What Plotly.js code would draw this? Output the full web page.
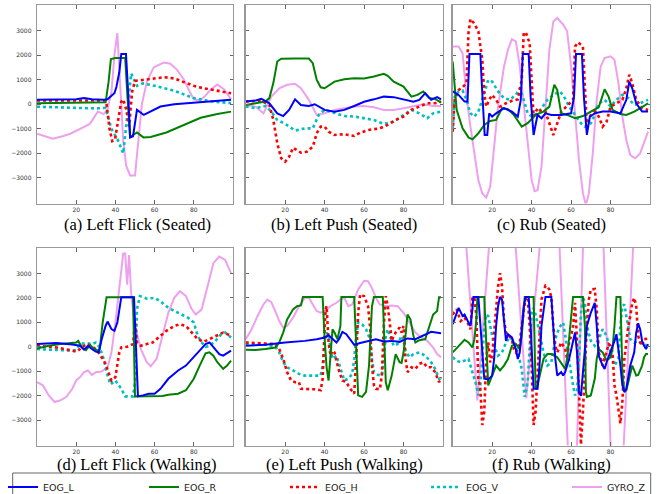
<!DOCTYPE html>
<html>
<head>
<meta charset="utf-8">
<script src="https://cdn.plot.ly/plotly-3.0.1.min.js"></script>
<style>html,body{margin:0;padding:0;background:#fff;}#chart{width:660px;height:494px;}</style>
</head>
<body>
<div id="chart"></div>
<script>
// ---------- DATA ----------
var seriesNames = ["EOG_L", "EOG_R", "EOG_H", "EOG_V", "GYRO_Z"];
var panelTitles = ["(a) Left Flick (Seated)", "(b) Left Push (Seated)", "(c) Rub (Seated)",
                   "(d) Left Flick (Walking)", "(e) Left Push (Walking)", "(f) Rub (Walking)"];
var xTickVals = [20, 40, 60, 80];
var yTickVals = [-3000, -2000, -1000, 0, 1000, 2000, 3000];

// (a) Left Flick (Seated)
var aL_x = [0,10,20,24,28,34,36,38,39.5,40.5,42,43,45.4,46.5,47.5,49,51,54.5,58,63,70,76.6,84,92,99];
var aL_y = [180,180,200,250,200,180,200,350,450,700,1300,2050,2050,500,-1350,-1300,-230,-435,-300,-95,0,40,100,150,180];
var aR_x = [0,10,20,30,35,36.5,37.7,40,45,46,47.5,49,51,54.3,58,66,72,76.6,83.5,92,99];
var aR_y = [40,50,60,60,80,900,1840,1880,1880,500,-1350,-1250,-1150,-1350,-1330,-1150,-950,-800,-550,-400,-300];
var aH_x = [0,10,20,30,35,35.5,37,38.4,39.8,41.5,43,44,45.5,47,48.5,50,55,60,65,70,75,80,85,90,95,99];
var aH_y = [150,150,150,150,150,0,-1000,-1500,-1450,-600,100,200,-200,-900,500,950,1000,1060,1100,1050,900,750,650,570,500,450];
var aV_x = [0,10,20,30,35,38,41.5,44,46,48,51,54,60,70,80,90,99];
var aV_y = [-100,-130,-150,-170,-150,-1000,-1500,-2000,-500,1250,750,850,750,550,250,100,50];
var aG_x = [0,4,8,13,17,22,27,31,34,36,38,39.5,41,42.3,44,45.5,47.5,50,53.5,56,59.5,64.6,68,71.5,75,78,80,83,86,88.6,92,95.5,99];
var aG_y = [-1200,-1300,-1400,-1300,-1200,-1000,-800,-300,-400,-200,500,2000,2900,1000,-1500,-2500,-2900,-2900,0,900,1500,1700,1650,1400,1000,500,200,150,350,600,800,600,200];

// (b) Left Push (Seated)
var bL_x = [0,5,8,12,16,19,22,25,28,32,35,40,45,50,55,60,65,70,75,80,85,88,91,94,97,99];
var bL_y = [110,150,220,40,-370,-480,-230,200,-30,-70,0,-230,-300,-230,-70,100,200,310,290,180,100,180,450,180,290,200];
var bR_x = [0,5,10,12,14,16,18,25,32,34,36,38,40,45,50,55,60,65,70,72,75,80,84,87,90,93,96,99];
var bR_y = [-30,40,110,250,860,1740,1850,1860,1860,1670,990,690,650,920,1020,1060,1050,1130,1240,1160,920,720,310,380,520,250,220,70];
var bH_x = [0,8,12,14,16,18,20,22,24,26,28,31,34,36,38,40,42,45,50,55,58,62,68,72,76,80,84,88,92,96,99];
var bH_y = [110,140,-30,-640,-1590,-2200,-2340,-2140,-1770,-1860,-1970,-1930,-1730,-1180,-910,-910,-1120,-1250,-1220,-1290,-1160,-1050,-980,-840,-640,-500,-230,-95,40,40,110];
var bV_x = [0,5,10,13,16,20,25,30,34,37,40,45,50,55,60,65,70,75,80,84,88,92,95,99];
var bV_y = [-95,-160,-70,-300,-640,-800,-1070,-980,-980,-435,-230,-370,-480,-500,-570,-640,-800,-710,-435,-230,-370,-570,-370,-300];
var bG_x = [0,5,9,13,17,21,25,28,32,36,40,45,50,55,60,65,70,75,80,85,90,95,99];
var bG_y = [-30,-95,-370,310,650,790,830,650,180,-435,-370,-230,-160,-95,-70,-120,-230,-230,-160,-70,0,-70,-70];

// (c) Rub (Seated)
var cL_x = [0,3,6,7.5,8.5,14,15,16.2,17.5,18.5,20,22,26,30,33,34.5,35.5,38.5,39.5,41,43,45,47,50,55,60,61.5,62.5,65.5,66.5,68,69.5,72,76,80,85,88,89.5,91,93,96,99];
var cL_y = [520,380,110,110,2050,2050,450,-1250,-1250,-370,-500,-370,-160,-300,-500,180,2050,2050,300,-1250,-435,-570,-370,-435,-435,-370,310,2050,2050,300,-1250,-500,-370,-300,-300,-370,180,920,650,40,-300,-300];
var cR_x = [0,1,2,5,8,10,13,16,19,22,25,28,31,35,38,42,46,49,51.5,53,55,58,62,66,70,74,77,79,81,85,88,92,96,99];
var cR_y = [1740,860,-230,-980,-1350,-1430,-1180,-840,-680,-640,-160,-200,-435,-910,-770,-435,-300,-95,790,580,-370,-435,-570,-480,-300,-120,610,310,-230,-400,-435,-300,-120,40];
var cH_x = [0,1,3,5,7,8,9,11,13,15,16,17,18.5,20,22,24,27,30,33,35,36,37,39,40,41,43,45,47,49,51,53,55,58,61,62,63.5,66,67,68,70,72,74,76,78,80,83,86,88,89.5,91,93,96,99];
var cH_y = [-1120,180,580,690,860,2900,3470,3280,2970,1810,450,-95,180,380,180,-95,40,140,200,990,2900,2930,2490,1130,-500,-160,-300,-300,-775,-1250,-775,-300,-70,180,2350,2520,2350,580,-910,-435,-300,-500,-910,-710,-95,40,180,650,1200,860,180,-160,-230];
var cV_x = [0,1,3,5,7,9,11,13,16,18,20,23,26,29,32,34,36,38,40,43,45,48,51,54,56,59,62,65,67,70,72,74,77,80,83,86,89,92,95,99];
var cV_y = [-980,310,520,560,180,-370,-500,-300,450,990,920,520,250,180,380,650,180,-370,-500,-370,-160,180,380,520,380,-95,-435,-775,-910,-775,-435,40,180,-95,180,380,250,-30,40,180];
var cG_x = [0,3,5,7,9,11,13,15,17,19,21,23,26,28,30,32,34,36,38,40,41.5,43,45,47,49,51,53,56,58,60,62,64,66,67.5,69,71,73,75,77,80,82,84,86,88,90,92.5,95,97,99];
var cG_y = [2350,2350,2080,310,-910,-2000,-3090,-3630,-3800,-3360,-1590,-95,1540,2220,2650,2560,1540,-95,-1730,-3090,-3540,-3500,-2540,-230,2220,3370,3510,3240,2970,1540,-500,-2270,-3630,-4100,-3630,-2000,180,1540,1880,1950,1810,860,-500,-1460,-2070,-2200,-2000,-1590,-1120];

// (d) Left Flick (Walking)
var dL_x = [0,10,18,22,24,26,28,30,31.5,33,35,36,38,39.5,41,43,49.5,50.5,51.5,54,57,60,63,67,72,76,80,83,86,88,90,93,95,99];
var dL_y = [110,150,95,40,-120,40,-95,-200,-230,310,850,1030,720,650,990,2030,2030,0,-2030,-1990,-1920,-1920,-1720,-1310,-970,-770,-430,-160,110,175,-30,-300,-365,-160];
var dR_x = [0,6,12,17,20,21,23,25,27,29,31,32,33.5,35.5,49,50,62,64,67,72,76,80,83,86,88,90,92,95,97,99];
var dR_y = [-70,40,110,150,175,240,-30,-135,70,-70,-160,-95,990,2030,2030,-2030,-2030,-2010,-1960,-1920,-1780,-1310,-770,-270,-230,-365,-635,-905,-770,-570];
var dH_x = [0,10,18,20,22,24,26,28,30,32,35,37,38,40,41,42,43,46,49,50,51,53,56,59,62,66,70,73,76,79,82,85,88,92,95,97,99];
var dH_y = [40,-30,-160,-200,-95,40,110,0,-95,-300,-700,-1180,-1380,-1240,-635,-230,-30,0,110,990,175,40,110,175,380,650,850,920,850,580,310,200,310,445,580,515,445];
var dV_x = [0,10,18,20,22,25,28,30,32,34,36,37.5,40,43,45,49,50,51,52.5,56,60,63,67,72,77,80,82,84,86,88,91,94,96,99];
var dV_y = [-95,-135,-160,-135,110,150,110,175,-30,-500,-1180,-1540,-1380,-1720,-2030,-2030,-1450,1530,2070,1970,2000,1860,1590,1390,1190,990,445,175,0,30,240,515,580,380];
var dG_x = [0,3,6,9,12,15,18,20,22,24,26,28,30,33,36,38,40,42,44,45,46,47,48,50,53,56,58,61,64,67,70,73,76,79,81,84,87,90,93,96,99];
var dG_y = [-1450,-1580,-1990,-2260,-2190,-2050,-1720,-1380,-1240,-1040,-970,-1150,-1040,-1010,-840,-230,990,2470,3820,3820,2540,3750,2200,850,-95,-635,-800,-500,445,1390,2000,2270,2070,1530,1320,1530,2470,3420,3690,3550,3010];

// (e) Left Push (Walking)
var eL_x = [0,10,20,30,36,40,42,44,46,47.5,49,51,53,55,58,62,66,70,74,78,82,86,90,94,99];
var eL_y = [40,80,175,240,310,380,470,310,175,340,610,515,310,80,150,240,310,215,240,200,340,310,445,610,555];
var eR_x = [0,5,10,15,17,19,21,24,26,28,29,39,40,41,42,43,44,45,46.5,48,48.5,55,56,57,59,61,62.5,64,65,69.5,70,71,72,74,76,78,79,80,81,82,83.5,85,86,88,91,93,95,97,98,99];
var eR_y = [-120,-135,-95,-30,175,580,1120,1530,1660,1690,2040,2040,310,-840,-1380,-500,715,580,310,850,2040,2040,-230,-1990,-2050,-1850,-770,1660,2040,2040,850,-1450,-1780,-1180,-300,-635,-660,-230,445,1320,1120,445,175,270,310,850,1320,1460,2030,2030];
var eH_x = [0,5,10,15,17,19,21,23,25,27,28,31,35,38,39,40,40.5,41,41.5,42,43,44,45,47,49,51,53,55,56,57,58,60,62,63,64,65,66,68,69,70,71,72,73,74,75,76,78,79,80,81,82,84,86,88,90,92,94,96,98,99];
var eH_y = [175,150,150,110,-95,-500,-1040,-1380,-1450,-1450,-1720,-1720,-1740,-1780,-1310,715,1530,1660,850,175,-365,-160,-230,-905,-1380,-1450,-1720,-1920,-500,1390,2140,2070,1660,850,-770,-1580,-1720,-1740,-1180,850,2070,1660,990,240,445,580,785,580,850,-500,-1040,-840,-905,-700,-635,-840,-840,-1040,-1450,-1250];
var eV_x = [0,5,10,15,17,19,21,24,27,30,35,38,39,40,41,42,43,44,46,48,50,52,54,55,56,57,59,61,63,64,65,67,69,70,71,72,73,75,77,79,80,81,83,85,88,91,94,96,98,99];
var eV_y = [110,90,80,15,-230,-635,-840,-970,-1110,-1180,-1180,-1180,-770,240,580,445,-95,-500,-365,-905,-1380,-1310,-1110,-500,445,990,920,715,310,-500,-1040,-1150,-1180,-500,445,715,445,40,110,445,240,-160,-430,-300,-230,-365,-635,-905,-1310,-1380];
var eG_x = [0,3,6,9,11,13,15,17,19,21,24,27,30,32,34,36,38,40,43,46,48,50,52,54,57,60,62,64,66,68,71,74,77,80,83,86,89,92,95,97,99];
var eG_y = [310,715,1260,1730,1930,1820,1460,1050,785,850,1190,1660,2000,2000,1730,1460,1390,1460,1660,1800,1930,2000,1660,1730,2340,2700,2680,2400,2000,1730,1660,1690,1660,1390,990,580,380,240,-30,-300,-430];

// (f) Rub (Walking)
var fL_x = [0,1,3,5,6,8,9,10,10.5,13,14,15,16,18,20,21,22,23,24,25,26,27,28,30,32,33,34,35,36,37,38.5,39.5,40.5,41,43,44,45,46,47,50,51,52,53,54,55,56,57,59,61,62,63,64,65,66,67,68,70,72,73,74,76,77,78,80,82,83,84,85,86,87,88,89,90,91,92,93,94,95,96,97,98,99];
var fL_y = [920,1120,1590,1260,1320,990,850,1530,2040,2040,850,-500,-1310,-1340,-1180,-500,850,1660,2040,1930,990,240,515,380,-95,-500,-230,850,1660,2040,2040,850,-905,-1720,-1720,-770,850,1530,2040,2040,850,-500,-1180,-1110,-1040,-1180,-1040,-500,310,580,-230,-1850,-2010,-1040,175,850,1390,1800,850,-365,-770,-905,-635,-230,240,515,-95,-770,-1580,-1850,-1720,-1180,-770,-500,-230,580,960,715,240,40,-95,110];
var fR_x = [0,3,6,8,10,11,12,12.5,16,17,18,20,22,24,26,28,30,32,34,35,36,36.5,41,41.5,42,43,44,46,48,50,53,56,57,58,59,60,61,66,67,67.5,68,70,72,73,74,76,78,80,81,82,83,85,85.5,86,87,88,89,90,91,92,93,94,96,97,98,99];
var fR_y = [-230,40,285,175,-30,310,1120,2040,2040,175,-1580,-1180,-770,-970,-770,-500,40,110,-95,445,1530,2040,2040,-500,-1720,-1580,-1180,-500,-300,-300,-430,-770,-905,-500,445,1120,2040,2040,850,-1850,-2050,-1990,-1310,-500,-95,-230,-570,-430,-95,850,2040,2040,300,-1040,-1850,-1780,-1450,-1040,-770,-970,-1180,-1150,-770,-430,-300,-300];
var fH_x = [0,2,4,6,8,9,10,11,12,13,14,15,16,17,18,19,20,21,22,23,24,25,26,27,29,30,31,32,33,34,35,36,37,38,39,40,41,42,43,44,45,47,48,49,50,51,52,53,55,57,58,59,60,61,62,63,64,65,66,67,68,69,70,72,73,74,75,76,77,78,79,80,81,82,83,84,85,86,87,88,89,90,91,92,93,94,95,96,97,99];
var fH_y = [1320,1530,1050,1190,920,715,2040,2000,1260,-1310,-1720,-3200,-2660,-500,175,-635,-365,445,1530,2470,3010,2470,1120,580,380,310,-95,-230,-100,175,850,1530,2040,2000,850,-770,-3200,-2660,-1180,850,1930,2500,2450,2340,2000,850,40,-230,175,-95,-500,175,445,850,1800,300,-1850,-4000,-2660,-770,850,1930,2340,2360,1530,-230,-500,-770,-430,-230,110,40,-230,-1580,-1990,-2660,-3140,-2260,-500,175,850,1260,1800,2000,1660,445,175,40,310,330];
var fV_x = [0,2,4,6,8,10,12,13,14,15,16,17,18,19,21,23,25,27,29,31,33,35,36.5,38,39,40,41,42,44,46,48,50,52,54,56,57,59,61,62,63,64,65,66,67,68,70,72,74,76,78,80,82,84,85,86,87,88,90,92,94,96,99];
var fV_y = [-430,-570,-635,-570,-500,-1040,-1580,-1990,-1580,-500,850,1320,1260,850,40,-365,-230,175,380,240,-230,-905,-2050,-1450,-95,1390,1590,1320,580,-230,-770,-635,310,785,990,445,-500,-1580,-1990,-1850,-500,1390,2040,1800,850,240,40,310,715,445,-230,-770,-500,850,1660,1730,1260,310,175,240,110,40];
var fG_x = [0,3,7,12.5,18.3,25,32,37.3,44,49,54.2,58.3,60.5,63,66,71,76.5,80,83.5,86.7,91.4,95,99];
var fG_y = [7000,8000,4000,-2200,4000,8000,4000,-2100,4000,7000,4000,-4000,-6000,-4000,4000,7000,4000,-4000,-6000,-4000,4000,7000,5000];

// ---------- STYLE / LAYOUT ----------
var lineStyles = [
  {color: "#0000ff", width: 2, dash: "solid"},
  {color: "#008000", width: 2, dash: "solid"},
  {color: "#ff0000", width: 2.6, dash: "dot"},
  {color: "#00bfbf", width: 2.6, dash: "dot"},
  {color: "#eea0ee", width: 2, dash: "solid"}
];
var panels = [
  [[aL_x,aL_y],[aR_x,aR_y],[aH_x,aH_y],[aV_x,aV_y],[aG_x,aG_y]],
  [[bL_x,bL_y],[bR_x,bR_y],[bH_x,bH_y],[bV_x,bV_y],[bG_x,bG_y]],
  [[cL_x,cL_y],[cR_x,cR_y],[cH_x,cH_y],[cV_x,cV_y],[cG_x,cG_y]],
  [[dL_x,dL_y],[dR_x,dR_y],[dH_x,dH_y],[dV_x,dV_y],[dG_x,dG_y]],
  [[eL_x,eL_y],[eR_x,eR_y],[eH_x,eH_y],[eV_x,eV_y],[eG_x,eG_y]],
  [[fL_x,fL_y],[fR_x,fR_y],[fH_x,fH_y],[fV_x,fV_y],[fG_x,fG_y]]
];
var W = 660, H = 494;
var colPx = [[37, 233], [245.7, 443], [452.7, 650]];
var rowPx = [[5, 203.5], [248, 445.5]];
var captionYPx = [224, 464];

var data = [];
var drawOrder = [4, 3, 2, 1, 0]; // GYRO behind, EOG_L on top
panels.forEach(function (p, pi) {
  var suffix = pi === 0 ? "" : String(pi + 1);
  drawOrder.forEach(function (si) {
    var st = lineStyles[si];
    var tr = {
      type: "scatter", mode: "lines",
      x: p[si][0], y: p[si][1],
      name: seriesNames[si],
      xaxis: "x" + suffix, yaxis: "y" + suffix,
      line: {color: st.color, width: st.width, dash: st.dash},
      showlegend: pi === 0,
      legendrank: si + 1,
      hoverinfo: "skip"
    };
    if (si === 4) tr.legendwidth = 40;
    data.push(tr);
  });
});

var layout = {
  width: W, height: H,
  margin: {l: 0, r: 0, t: 0, b: 0, pad: 0, autoexpand: false},
  paper_bgcolor: "#ffffff", plot_bgcolor: "#ffffff",
  font: {family: "DejaVu Sans, sans-serif", color: "#333"},
  showlegend: true,
  legend: {
    orientation: "h", x: 3 / W, xanchor: "left", y: 1 - 487 / H, yanchor: "middle",
    entrywidth: 96, entrywidthmode: "pixels",
    font: {family: "DejaVu Sans, sans-serif", size: 9.5, color: "#222"},
    bgcolor: "rgba(0,0,0,0)", borderwidth: 0, traceorder: "normal"
  },
  shapes: [{
    type: "rect", xref: "paper", yref: "paper",
    x0: 12.7 / W, x1: 650.7 / W, y0: -0.05, y1: 1 - 473 / H,
    line: {color: "#666", width: 1}, fillcolor: "rgba(0,0,0,0)", layer: "below"
  }],
  annotations: []
};

for (var pi = 0; pi < 6; pi++) {
  var r = Math.floor(pi / 3), c = pi % 3;
  var suffix = pi === 0 ? "" : String(pi + 1);
  var axCommon = {
    showline: true, linecolor: "#999", linewidth: 1.3, mirror: "allticks",
    ticks: "inside", ticklen: 3.5, tickwidth: 1, tickcolor: "#666",
    showgrid: false, zeroline: false, fixedrange: true, automargin: false,
    tickfont: {family: "DejaVu Sans, sans-serif", size: 6, color: "#333"}
  };
  layout["xaxis" + suffix] = Object.assign({}, axCommon, {
    domain: [colPx[c][0] / W, colPx[c][1] / W],
    anchor: "y" + suffix, range: [0, 100],
    tickmode: "array", tickvals: xTickVals, ticktext: xTickVals.map(String)
  });
  layout["yaxis" + suffix] = Object.assign({}, axCommon, {
    domain: [1 - rowPx[r][1] / H, 1 - rowPx[r][0] / H],
    anchor: "x" + suffix, range: [-4040, 4040],
    tickmode: "array", tickvals: yTickVals,
    showticklabels: c === 0, ticklabelstandoff: 3
  });
  layout.annotations.push({
    xref: "paper", yref: "paper",
    x: (colPx[c][0] + colPx[c][1]) / 2 / W + (c === 0 ? 2 / W : 0),
    y: 1 - captionYPx[r] / H, xanchor: "center", yanchor: "middle",
    text: panelTitles[pi], showarrow: false,
    font: {family: "Liberation Serif, Times New Roman, serif", size: 16.5, color: "#000"}
  });
}

Plotly.newPlot("chart", data, layout, {displayModeBar: false, staticPlot: true});
</script>
</body>
</html>
